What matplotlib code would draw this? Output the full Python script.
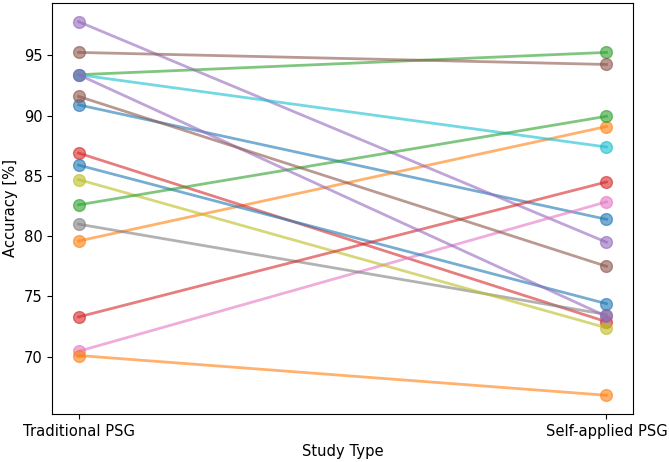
import matplotlib
matplotlib.use("Agg")
import matplotlib.pyplot as plt

study_types = ["Traditional PSG", "Self-applied PSG"]
traditional = [90.9, 79.6, 93.4, 86.9, 97.8, 95.25, 70.45, 81.0,
               84.7, 93.4, 85.9, 70.1, 82.6, 73.3, 93.4, 91.6]
self_applied = [81.4, 89.1, 95.25, 72.9, 79.5, 94.25, 82.85, 73.5,
                72.4, 87.4, 74.4, 66.8, 89.95, 84.5, 73.35, 77.5]

plt.rcParams["font.size"] = 10.6

fig, ax = plt.subplots(figsize=(6.69, 4.62), dpi=100)
fig.subplots_adjust(left=0.078, right=0.946, top=0.9935, bottom=0.104)

for t, s in zip(traditional, self_applied):
    ax.plot(study_types, [t, s], marker="o", alpha=0.6, linewidth=2, markersize=8.5)

ax.set_xlabel("Study Type")
ax.set_ylabel("Accuracy [%]")

fig.savefig("out.png", dpi=100)
